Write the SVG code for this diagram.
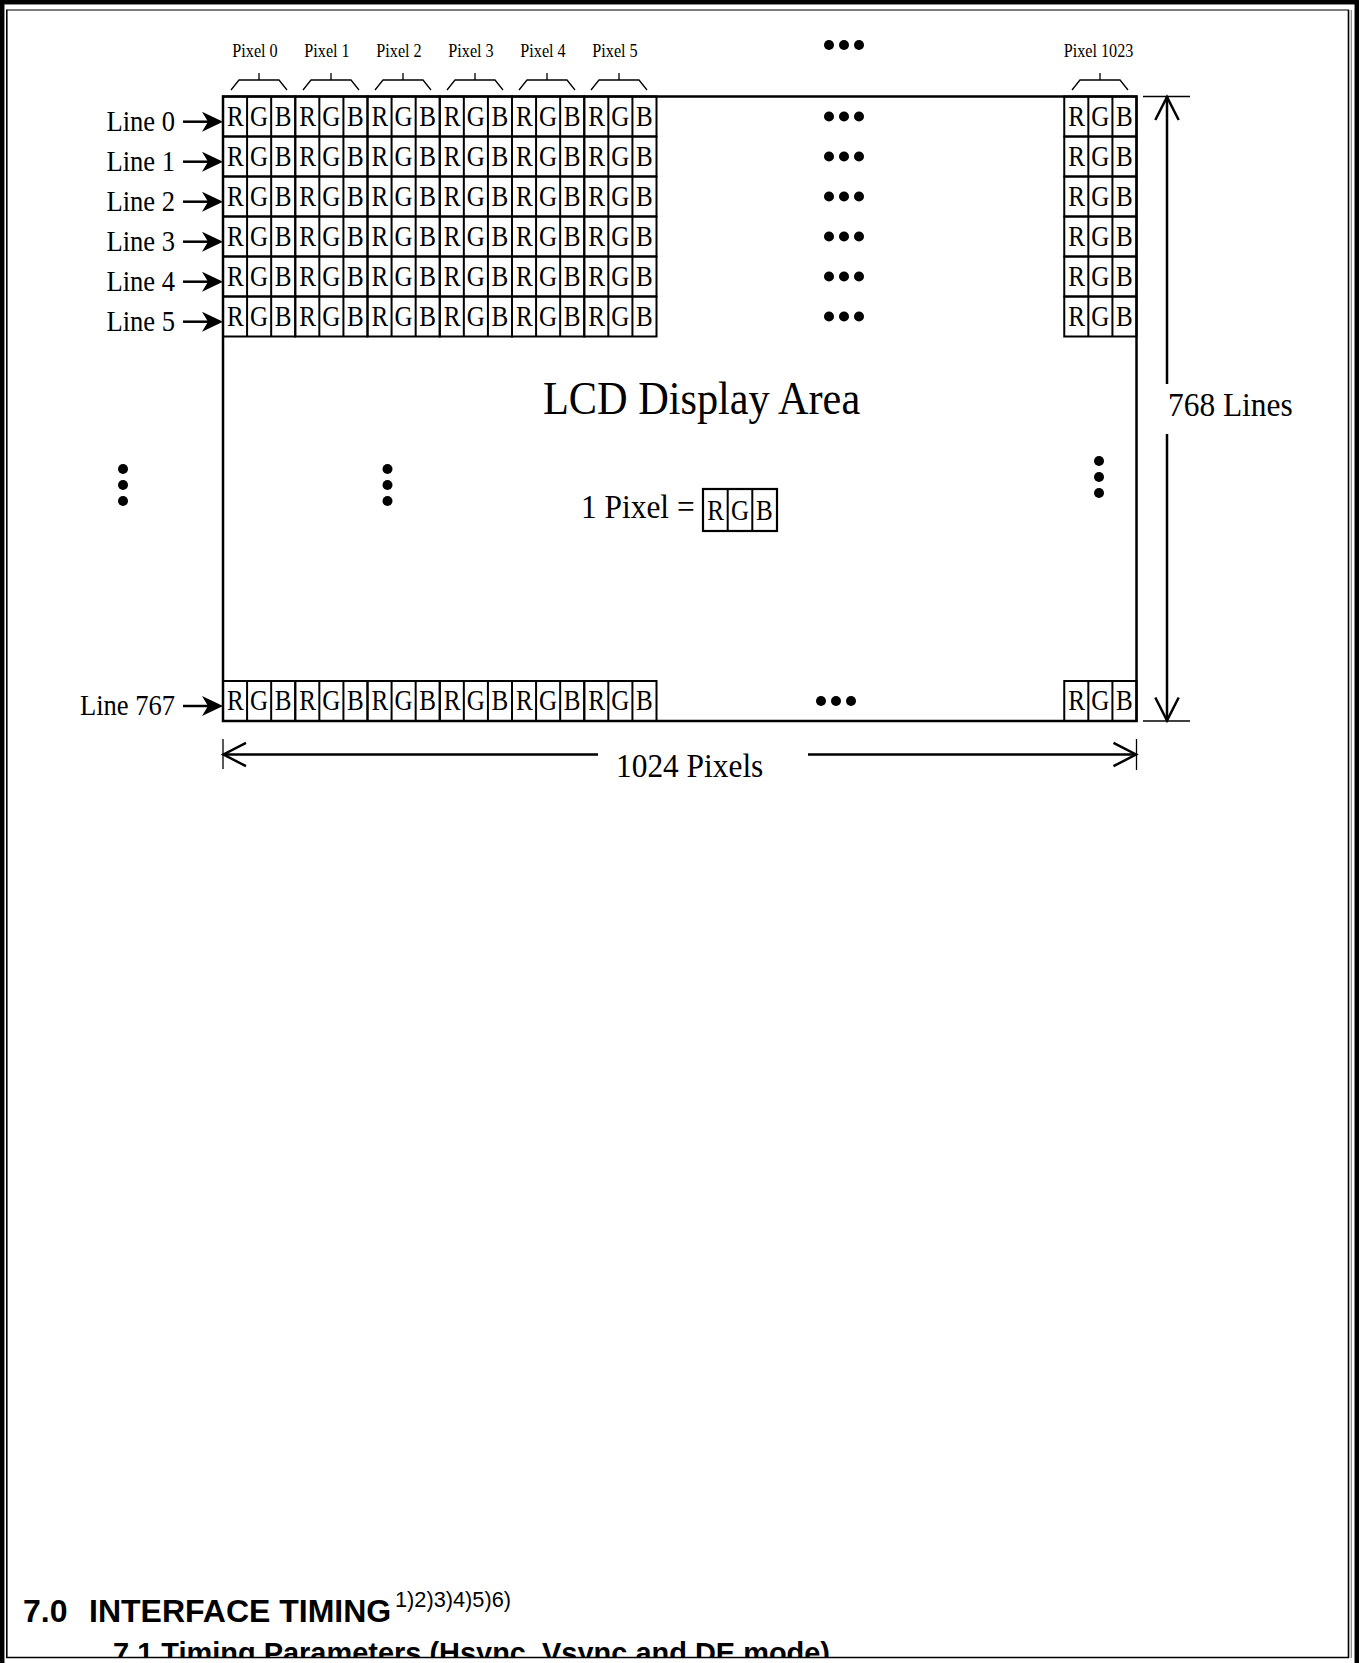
<svg xmlns="http://www.w3.org/2000/svg" xmlns:xlink="http://www.w3.org/1999/xlink" width="1359" height="1663" viewBox="0 0 1359 1663">
<style>
.serif{font-family:"Liberation Serif","Times New Roman",serif;fill:#000}
.cell{font-size:28.5px;text-anchor:middle}
.lbl{font-size:29.5px;text-anchor:end}
.pxl{font-size:18px;text-anchor:middle}
.big{font-size:34.5px}
.sans{font-family:"Liberation Sans",Arial,sans-serif;fill:#000}
.g{fill:none;stroke:#000;stroke-width:2}
.thin{fill:none;stroke:#000;stroke-width:1.3}
.dim{fill:none;stroke:#000;stroke-width:2.5}
.dot{fill:#000}
</style>
<defs>
<g id="px">
<rect class="g" x="0" y="0" width="72.25" height="40"/>
<line class="g" x1="24.08" y1="0" x2="24.08" y2="40"/>
<line class="g" x1="48.17" y1="0" x2="48.17" y2="40"/>
<text class="serif cell" transform="matrix(0.88,0,0,1,12.4,29.3)">R</text>
<text class="serif cell" transform="matrix(0.88,0,0,1,36.1,29.3)">G</text>
<text class="serif cell" transform="matrix(0.88,0,0,1,60,29.3)">B</text>
</g>
<g id="row">
<use xlink:href="#px" x="0"/>
<use xlink:href="#px" x="72.25"/>
<use xlink:href="#px" x="144.5"/>
<use xlink:href="#px" x="216.75"/>
<use xlink:href="#px" x="289"/>
<use xlink:href="#px" x="361.25"/>
</g>
<path id="rarrow" d="M0,0 L-21,-10 L-15,0 L-21,10 Z"/>
<path id="bracket" d="M-28,90 L-20,80 L20,80 L28,90 M0,73 L0,80"/>
<clipPath id="page"><rect x="7" y="10" width="1341" height="1647"/></clipPath>
</defs>
<rect width="1359" height="1663" fill="#fff"/>

<g id="section-titles" clip-path="url(#page)">
<text class="sans" font-weight="bold" font-size="32" x="23" y="1622">7.0</text>
<text class="sans" font-weight="bold" font-size="32" x="89" y="1622">INTERFACE TIMING</text>
<text class="sans" font-size="21.5" x="395" y="1607" textLength="116" lengthAdjust="spacingAndGlyphs">1)2)3)4)5)6)</text>
<text class="sans" font-weight="bold" font-size="29" x="113" y="1663" textLength="717" lengthAdjust="spacingAndGlyphs">7.1  Timing Parameters (Hsync, Vsync and DE mode)</text>
</g>

<g id="frame">
<rect x="2.2" y="2.2" width="1354.6" height="1700" fill="none" stroke="#000" stroke-width="4.5"/>
<line x1="6" y1="10" x2="1349" y2="10" stroke="#7a7a7a" stroke-width="2"/>
<line x1="6.8" y1="10" x2="6.8" y2="1658" stroke="#000" stroke-width="1.6"/>
<line x1="6" y1="1657.5" x2="1349" y2="1657.5" stroke="#000" stroke-width="1.6"/>
<line x1="1348.5" y1="10" x2="1348.5" y2="1658" stroke="#000" stroke-width="1.6"/>
<line x1="1351.3" y1="10" x2="1351.3" y2="1658" stroke="#888" stroke-width="1.2"/>
</g>

<g id="pixel-labels">
<text class="serif pxl" transform="matrix(0.9,0,0,1,255,57)">Pixel 0</text>
<text class="serif pxl" transform="matrix(0.9,0,0,1,327,57)">Pixel 1</text>
<text class="serif pxl" transform="matrix(0.9,0,0,1,399,57)">Pixel 2</text>
<text class="serif pxl" transform="matrix(0.9,0,0,1,471,57)">Pixel 3</text>
<text class="serif pxl" transform="matrix(0.9,0,0,1,543,57)">Pixel 4</text>
<text class="serif pxl" transform="matrix(0.9,0,0,1,615,57)">Pixel 5</text>
<text class="serif pxl" transform="matrix(0.9,0,0,1,1098.5,57)">Pixel 1023</text>
<use xlink:href="#bracket" class="thin" x="259" y="0"/>
<use xlink:href="#bracket" class="thin" x="331" y="0"/>
<use xlink:href="#bracket" class="thin" x="403" y="0"/>
<use xlink:href="#bracket" class="thin" x="475" y="0"/>
<use xlink:href="#bracket" class="thin" x="547" y="0"/>
<use xlink:href="#bracket" class="thin" x="619" y="0"/>
<use xlink:href="#bracket" class="thin" x="1100" y="0"/>
</g>

<g id="display-area">
<rect x="223" y="96.5" width="913.5" height="624.5" fill="none" stroke="#000" stroke-width="2.5"/>
<text class="serif" transform="matrix(0.91,0,0,1,543,414)" font-size="46.5">LCD Display Area</text>
</g>

<g id="pixel-grid">
<use xlink:href="#row" x="223" y="96.5"/>
<use xlink:href="#row" x="223" y="136.5"/>
<use xlink:href="#row" x="223" y="176.5"/>
<use xlink:href="#row" x="223" y="216.5"/>
<use xlink:href="#row" x="223" y="256.5"/>
<use xlink:href="#row" x="223" y="296.5"/>
<use xlink:href="#row" x="223" y="681"/>
<use xlink:href="#px" x="1064.25" y="96.5"/>
<use xlink:href="#px" x="1064.25" y="136.5"/>
<use xlink:href="#px" x="1064.25" y="176.5"/>
<use xlink:href="#px" x="1064.25" y="216.5"/>
<use xlink:href="#px" x="1064.25" y="256.5"/>
<use xlink:href="#px" x="1064.25" y="296.5"/>
<use xlink:href="#px" x="1064.25" y="681"/>
</g>

<g id="line-labels">
<text class="serif lbl" transform="matrix(0.9,0,0,1,175,130.5)">Line 0</text>
<text class="serif lbl" transform="matrix(0.9,0,0,1,175,170.5)">Line 1</text>
<text class="serif lbl" transform="matrix(0.9,0,0,1,175,210.5)">Line 2</text>
<text class="serif lbl" transform="matrix(0.9,0,0,1,175,250.5)">Line 3</text>
<text class="serif lbl" transform="matrix(0.9,0,0,1,175,290.5)">Line 4</text>
<text class="serif lbl" transform="matrix(0.9,0,0,1,175,330.5)">Line 5</text>
<text class="serif lbl" transform="matrix(0.9,0,0,1,175,715)">Line 767</text>
</g>

<g id="ellipses">
<circle class="dot" cx="829" cy="45" r="5"/><circle class="dot" cx="844" cy="45" r="5"/><circle class="dot" cx="859" cy="45" r="5"/>
<circle class="dot" cx="829" cy="116.5" r="5"/><circle class="dot" cx="844" cy="116.5" r="5"/><circle class="dot" cx="859" cy="116.5" r="5"/>
<circle class="dot" cx="829" cy="156.5" r="5"/><circle class="dot" cx="844" cy="156.5" r="5"/><circle class="dot" cx="859" cy="156.5" r="5"/>
<circle class="dot" cx="829" cy="196.5" r="5"/><circle class="dot" cx="844" cy="196.5" r="5"/><circle class="dot" cx="859" cy="196.5" r="5"/>
<circle class="dot" cx="829" cy="236.5" r="5"/><circle class="dot" cx="844" cy="236.5" r="5"/><circle class="dot" cx="859" cy="236.5" r="5"/>
<circle class="dot" cx="829" cy="276.5" r="5"/><circle class="dot" cx="844" cy="276.5" r="5"/><circle class="dot" cx="859" cy="276.5" r="5"/>
<circle class="dot" cx="829" cy="316.5" r="5"/><circle class="dot" cx="844" cy="316.5" r="5"/><circle class="dot" cx="859" cy="316.5" r="5"/>
<circle class="dot" cx="821" cy="701" r="5"/><circle class="dot" cx="836" cy="701" r="5"/><circle class="dot" cx="851" cy="701" r="5"/>
<circle class="dot" cx="123" cy="469" r="5"/><circle class="dot" cx="123" cy="485" r="5"/><circle class="dot" cx="123" cy="501" r="5"/>
<circle class="dot" cx="387.5" cy="469" r="5"/><circle class="dot" cx="387.5" cy="485" r="5"/><circle class="dot" cx="387.5" cy="501" r="5"/>
<circle class="dot" cx="1099" cy="461" r="5"/><circle class="dot" cx="1099" cy="477" r="5"/><circle class="dot" cx="1099" cy="493" r="5"/>
</g>

<g id="legend">
<text class="serif big" transform="matrix(0.91,0,0,1,581,518)">1 Pixel =</text>
<rect x="703" y="489" width="74" height="42" fill="none" stroke="#000" stroke-width="2.2"/>
<line class="g" x1="727.7" y1="489" x2="727.7" y2="531"/>
<line class="g" x1="752.3" y1="489" x2="752.3" y2="531"/>
<text class="serif cell" transform="matrix(0.88,0,0,1,715.5,520)">R</text>
<text class="serif cell" transform="matrix(0.88,0,0,1,740,520)">G</text>
<text class="serif cell" transform="matrix(0.88,0,0,1,764.3,520)">B</text>
</g>

<g id="dimension-labels">
<text class="serif big" transform="matrix(0.91,0,0,1,1168,416)">768 Lines</text>
<text class="serif big" transform="matrix(0.91,0,0,1,616,777)">1024 Pixels</text>
</g>

<g id="connectors">
<g id="line-arrows">
<line class="dim" x1="183" y1="121.7" x2="212" y2="121.7"/><use xlink:href="#rarrow" x="223" y="121.7"/>
<line class="dim" x1="183" y1="161.7" x2="212" y2="161.7"/><use xlink:href="#rarrow" x="223" y="161.7"/>
<line class="dim" x1="183" y1="201.7" x2="212" y2="201.7"/><use xlink:href="#rarrow" x="223" y="201.7"/>
<line class="dim" x1="183" y1="241.7" x2="212" y2="241.7"/><use xlink:href="#rarrow" x="223" y="241.7"/>
<line class="dim" x1="183" y1="281.7" x2="212" y2="281.7"/><use xlink:href="#rarrow" x="223" y="281.7"/>
<line class="dim" x1="183" y1="321.7" x2="212" y2="321.7"/><use xlink:href="#rarrow" x="223" y="321.7"/>
<line class="dim" x1="183" y1="706" x2="212" y2="706"/><use xlink:href="#rarrow" x="223" y="706"/>
</g>
<g id="dim-vertical">
<line class="thin" x1="1143" y1="96.5" x2="1190" y2="96.5"/>
<line class="thin" x1="1143" y1="721" x2="1190" y2="721"/>
<line class="dim" x1="1167" y1="97" x2="1167" y2="384"/>
<line class="dim" x1="1167" y1="434" x2="1167" y2="720.5"/>
<path class="dim" d="M1155.3,120 L1167,97 L1178.7,120"/>
<path class="dim" d="M1155.3,697.5 L1167,720.5 L1178.7,697.5"/>
</g>
<g id="dim-horizontal">
<line class="thin" x1="223" y1="739" x2="223" y2="769"/>
<line class="thin" x1="1136.5" y1="739" x2="1136.5" y2="770"/>
<line class="dim" x1="223.5" y1="754.5" x2="598" y2="754.5"/>
<line class="dim" x1="808" y1="754.5" x2="1136" y2="754.5"/>
<path class="dim" d="M246,742.8 L223.5,754.5 L246,766.2"/>
<path class="dim" d="M1113.5,742.8 L1136,754.5 L1113.5,766.2"/>
</g>
</g>
</svg>
